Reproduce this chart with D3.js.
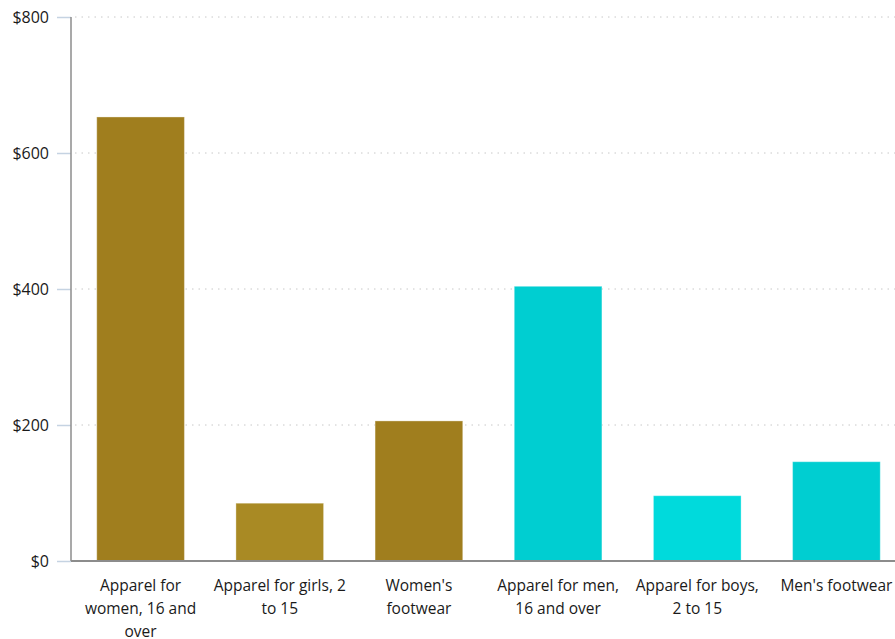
<!DOCTYPE html>
<html lang="en">
<head>
<meta charset="UTF-8">
<title>Apparel spending</title>
<script src="https://d3js.org/d3.v7.min.js"></script>
<style>
  body { margin: 0; background: #fff; }
  text { font-family: "Open Sans", "Noto Sans", sans-serif; fill: #1a1a1a; }
</style>
</head>
<body>
<script>
// chart values
var categories = ["Apparel for women, 16 and over", "Apparel for girls, 2 to 15", "Women's footwear",
                  "Apparel for men, 16 and over", "Apparel for boys, 2 to 15", "Men's footwear"]
var labelLines = [["Apparel for", "women, 16 and", "over"], ["Apparel for girls, 2", "to 15"], ["Women's", "footwear"],
                  ["Apparel for men,", "16 and over"], ["Apparel for boys,", "2 to 15"], ["Men's footwear"]]
var spending = [653, 85, 206, 404, 96, 146]
var barColors = ["#a07e1e", "#a98a24", "#a07e1e", "#00ced1", "#00dadc", "#00ced1"]
var yTicks = [0, 200, 400, 600, 800]

var width = 895
var height = 639
var plotLeft = 71, plotTop = 17, plotBottom = 561

var svg = d3.select('body').append('svg')
  .attr('width', width)
  .attr('height', height)

var x = d3.scaleBand()
  .domain(categories)
  .range([plotLeft, 906])
  .paddingInner(0.37)
  .paddingOuter(0.185)

var y = d3.scaleLinear()
  .domain([0, 800])
  .range([plotBottom, plotTop])

// gridlines
svg.append('g')
  .selectAll('line')
  .data(yTicks.filter(d => d > 0))
  .enter().append('line')
  .attr('x1', plotLeft + 4).attr('x2', width)
  .attr('y1', d => y(d)).attr('y2', d => y(d))
  .attr('stroke', '#c8c8c8')
  .attr('stroke-dasharray', '1.5,5')

// y axis
var yAxis = d3.axisLeft(y)
  .tickValues(yTicks)
  .tickSize(14)
  .tickPadding(8)
  .tickFormat(d => '$' + d)
var gy = svg.append('g')
  .attr('transform', `translate(${plotLeft},0)`)
  .call(yAxis)
gy.select('.domain').remove()
gy.selectAll('.tick line').attr('stroke', '#c5d3e2').attr('stroke-width', 1.5)
gy.selectAll('.tick text').attr('font-size', 16).attr('fill', '#1a1a1a')
  .style('font-family', '"Open Sans", sans-serif')
svg.append('line')
  .attr('x1', plotLeft).attr('x2', plotLeft)
  .attr('y1', plotTop).attr('y2', plotBottom)
  .attr('stroke', '#8c8c8c').attr('stroke-width', 1.5)

// bars
svg.append('g')
  .selectAll('rect')
  .data(spending)
  .enter().append('rect')
  .attr('x', (d, i) => x(categories[i]))
  .attr('y', d => y(d))
  .attr('width', x.bandwidth())
  .attr('height', d => y(0) - y(d))
  .attr('fill', (d, i) => barColors[i])
  .attr('stroke', 'rgba(255,255,255,0.35)')
  .attr('stroke-width', 1)

// x baseline
svg.append('line')
  .attr('x1', plotLeft).attr('x2', width)
  .attr('y1', plotBottom).attr('y2', plotBottom)
  .attr('stroke', '#8c8c8c').attr('stroke-width', 2)

// x labels
var lab = svg.append('g')
  .selectAll('text')
  .data(categories)
  .enter().append('text')
  .attr('text-anchor', 'middle')
  .attr('font-size', 15.5)
  .attr('x', d => x(d) + x.bandwidth() / 2)
  .attr('y', 591)
lab.selectAll('tspan')
  .data((d, i) => labelLines[i])
  .enter().append('tspan')
  .attr('x', function() { return this.parentNode.getAttribute('x') })
  .attr('dy', (d, j) => j === 0 ? 0 : 23)
  .text(d => d)
</script>
</body>
</html>
